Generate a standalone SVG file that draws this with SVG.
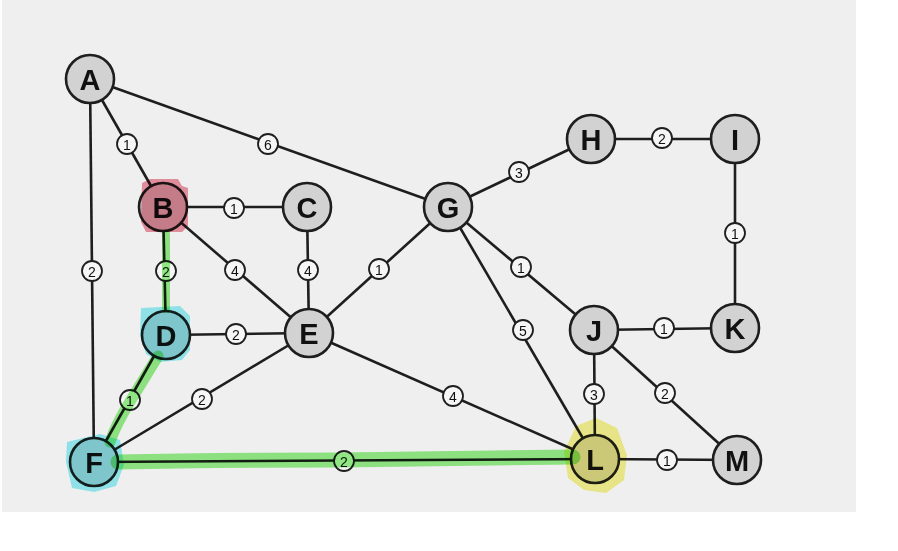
<svg xmlns="http://www.w3.org/2000/svg" width="898" height="551" viewBox="0 0 898 551">
<style>
.e{stroke:#1e1e1e;stroke-width:2.6;fill:none}
.n{fill:#d2d2d2;stroke:#1e1e1e;stroke-width:2.6}
.nt{font-family:"Liberation Sans",Arial,sans-serif;font-weight:bold;font-size:29px;fill:#111;text-anchor:middle;dominant-baseline:central}
.w circle{fill:#f6f6f6;stroke:#1e1e1e;stroke-width:1.8}
.w text{font-family:"Liberation Sans",Arial,sans-serif;font-size:14px;fill:#111;text-anchor:middle;dominant-baseline:central}
.hl{mix-blend-mode:multiply}
.g{stroke:#84ec74;fill:none;stroke-linecap:round;stroke-linejoin:round;mix-blend-mode:multiply;opacity:0.85}
</style>
<rect x="0" y="0" width="898" height="551" fill="#ffffff"/>
<rect x="2" y="0" width="854" height="512" fill="#efefef"/>
<g id="connectors">
<line class="e" x1="90" y1="79" x2="163" y2="207"/>
<line class="e" x1="90" y1="79" x2="448" y2="207"/>
<line class="e" x1="90" y1="79" x2="94" y2="462"/>
<line class="e" x1="163" y1="207" x2="307" y2="207"/>
<line class="e" x1="163" y1="207" x2="166" y2="335"/>
<line class="e" x1="163" y1="207" x2="309" y2="333"/>
<line class="e" x1="307" y1="207" x2="309" y2="333"/>
<line class="e" x1="166" y1="335" x2="309" y2="333"/>
<line class="e" x1="166" y1="335" x2="94" y2="462"/>
<line class="e" x1="94" y1="462" x2="309" y2="333"/>
<line class="e" x1="94" y1="462" x2="595" y2="459"/>
<line class="e" x1="309" y1="333" x2="448" y2="207"/>
<line class="e" x1="309" y1="333" x2="595" y2="459"/>
<line class="e" x1="448" y1="207" x2="591" y2="139"/>
<line class="e" x1="448" y1="207" x2="594" y2="330"/>
<line class="e" x1="448" y1="207" x2="595" y2="459"/>
<line class="e" x1="591" y1="139" x2="735" y2="139"/>
<line class="e" x1="735" y1="139" x2="735" y2="328"/>
<line class="e" x1="594" y1="330" x2="735" y2="328"/>
<line class="e" x1="594" y1="330" x2="595" y2="459"/>
<line class="e" x1="594" y1="330" x2="737" y2="460"/>
<line class="e" x1="595" y1="459" x2="737" y2="460"/>
<g class="w">
<circle cx="127" cy="144" r="10"/><text x="127" y="145">1</text>
<circle cx="268" cy="144" r="10"/><text x="268" y="145">6</text>
<circle cx="92" cy="271" r="10"/><text x="92" y="272">2</text>
<circle cx="234" cy="208" r="10"/><text x="234" y="209">1</text>
<circle cx="166" cy="271" r="10"/><text x="166" y="272">2</text>
<circle cx="235" cy="270" r="10"/><text x="235" y="271">4</text>
<circle cx="308" cy="270" r="10"/><text x="308" y="271">4</text>
<circle cx="236" cy="334" r="10"/><text x="236" y="335">2</text>
<circle cx="379" cy="269" r="10"/><text x="379" y="270">1</text>
<circle cx="130" cy="400" r="10"/><text x="130" y="401">1</text>
<circle cx="202" cy="399" r="10"/><text x="202" y="400">2</text>
<circle cx="453" cy="396" r="10"/><text x="453" y="397">4</text>
<circle cx="344" cy="461" r="10"/><text x="344" y="462">2</text>
<circle cx="519" cy="172" r="10"/><text x="519" y="173">3</text>
<circle cx="662" cy="138" r="10"/><text x="662" y="139">2</text>
<circle cx="735" cy="233" r="10"/><text x="735" y="234">1</text>
<circle cx="521" cy="267" r="10"/><text x="521" y="268">1</text>
<circle cx="523" cy="330" r="10"/><text x="523" y="331">5</text>
<circle cx="664" cy="328" r="10"/><text x="664" y="329">1</text>
<circle cx="594" cy="394" r="10"/><text x="594" y="395">3</text>
<circle cx="665" cy="393" r="10"/><text x="665" y="394">2</text>
<circle cx="667" cy="460" r="10"/><text x="667" y="461">1</text>
</g>
</g>
<g id="A"><circle class="n" cx="90" cy="79" r="24"/><text class="nt" x="90" y="80">A</text></g>
<g id="B"><circle class="n" cx="163" cy="207" r="24"/><text class="nt" x="163" y="208">B</text></g>
<g id="C"><circle class="n" cx="307" cy="207" r="24"/><text class="nt" x="307" y="208">C</text></g>
<g id="D"><circle class="n" cx="166" cy="335" r="24"/><text class="nt" x="166" y="336">D</text></g>
<g id="E"><circle class="n" cx="309" cy="333" r="24"/><text class="nt" x="309" y="334">E</text></g>
<g id="F"><circle class="n" cx="94" cy="462" r="24"/><text class="nt" x="94" y="463">F</text></g>
<g id="G"><circle class="n" cx="448" cy="207" r="24"/><text class="nt" x="448" y="208">G</text></g>
<g id="H"><circle class="n" cx="591" cy="139" r="24"/><text class="nt" x="591" y="140">H</text></g>
<g id="I"><circle class="n" cx="735" cy="139" r="24"/><text class="nt" x="735" y="140">I</text></g>
<g id="J"><circle class="n" cx="594" cy="330" r="24"/><text class="nt" x="594" y="331">J</text></g>
<g id="K"><circle class="n" cx="735" cy="328" r="24"/><text class="nt" x="735" y="329">K</text></g>
<g id="L"><circle class="n" cx="595" cy="459" r="24"/><text class="nt" x="595" y="460">L</text></g>
<g id="M"><circle class="n" cx="737" cy="460" r="24"/><text class="nt" x="737" y="461">M</text></g>
<g id="highlights">
<path class="g" d="M166 234 L166 309" stroke-width="8"/>
<path class="g" d="M158 356 Q142 382 131 400 Q116 424 110 442" stroke-width="11"/>
<path class="g" d="M118 462 Q200 460 340 460 Q460 458 573 457" stroke-width="15"/>
<path class="hl" d="M142 183 L150 179 L178 179 L182 186 L188 188 L188 226 L182 232 L146 232 L141 222 Z" fill="#ea7c90" opacity="0.8"/>
<path class="hl" d="M141 308 L180 306 L190 316 L190 350 L182 360 L160 362 L146 354 L140 335 Z" fill="#8ef0f6" opacity="0.9"/>
<path class="hl" d="M67 442 L100 434 L120 440 L124 465 L116 486 L94 492 L72 488 L66 462 Z" fill="#8ef0f6" opacity="0.9"/>
<path class="hl" d="M576 426 L596 418 L617 428 L627 455 L624 480 L606 493 L584 490 L568 478 L564 452 Z" fill="#f6f27c" opacity="0.85"/>
</g>
</svg>
